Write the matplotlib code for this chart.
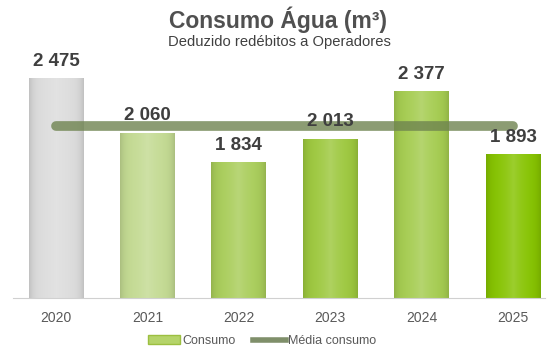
import matplotlib
matplotlib.use("Agg")
import matplotlib.pyplot as plt
import numpy as np
from matplotlib.colors import to_rgb
from matplotlib.lines import Line2D
from matplotlib.patches import Patch

years = ["2020", "2021", "2022", "2023", "2024", "2025"]
consumo = [2475, 2060, 1834, 2013, 2377, 1893]
labels = ["2 475", "2 060", "1 834", "2 013", "2 377", "1 893"]
bar_colors = ["#dcdcdc", "#c3da92", "#a9cd5a", "#9dc83e", "#a5cc50", "#86c300"]
media = float(np.mean(consumo))

plt.rcParams["font.family"] = ["Liberation Sans", "DejaVu Sans"]

fig = plt.figure(figsize=(5.51, 3.51), dpi=100)
ax = fig.add_axes([13/551, 1 - 298/351, (545 - 13)/551, (298 - 40)/351])
x = np.arange(len(years))
bars = ax.bar(x, consumo, width=0.6, color=bar_colors, zorder=2,
              edgecolor="none")

# gradient shading on bars
for b, c in zip(bars, bar_colors):
    rgb = np.array(to_rgb(c))
    t = np.linspace(-1, 1, 60)
    shade = 1 - 0.12 * t**6
    light = rgb[None, :] + (1 - rgb)[None, :] * 0.18 * ((1 - np.abs(t)) ** 2)[:, None]
    light = np.clip(light * shade[:, None], 0, 1)
    img = light[None, :, :]
    x0, y0 = b.get_x(), b.get_y()
    w, h = b.get_width(), b.get_height()
    im = ax.imshow(img, extent=[x0, x0 + w, 800, y0 + h], aspect="auto",
                   zorder=2.1, interpolation="bilinear")
    im.set_clip_path(b)
ax.set_xlim(-0.47, 5.35)
ax.set_ylim(800, 800 + 258 / 0.1313)

ax.plot([x[0], x[-1]], [media, media], color="#6f8450", lw=7, alpha=0.8,
        solid_capstyle="round", zorder=3)

for xi, v, lab in zip(x, consumo, labels):
    ax.annotate(lab, (xi, v), xytext=(0, 6), textcoords="offset points",
                ha="center", va="bottom", fontsize=13.5, fontweight="bold",
                color="#3f3f3f", zorder=4)

for s in ["top", "right", "left"]:
    ax.spines[s].set_visible(False)
ax.spines["bottom"].set_color("#d0d0d0")
ax.spines["bottom"].set_zorder(5)
ax.set_yticks([])
ax.set_xticks(x)
ax.set_xticklabels(years, fontsize=10, color="#595959")
ax.tick_params(axis="x", length=0, pad=9)

fig.text(278/551, 1 - 20/351, "Consumo Água (m³)", ha="center", va="center",
         fontsize=16.5, fontweight="bold", color="#505050")
fig.text(279/551, 1 - 42/351, "Deduzido redébitos a Operadores", ha="center",
         va="center", fontsize=10.6, color="#404040")

handles = [Patch(facecolor="#b5d46a", edgecolor="#9cbf40", label="Consumo"),
           Line2D([0], [0], color="#7f8f6a", lw=4, label="Média consumo")]
fig.legend(handles=handles, loc="center", bbox_to_anchor=(262/551, 1 - 341/351),
           ncol=2, frameon=False, fontsize=9, handlelength=2.6,
           handletextpad=0.2, columnspacing=1.4, labelcolor="#595959")

fig.savefig("out.png", dpi=100)
